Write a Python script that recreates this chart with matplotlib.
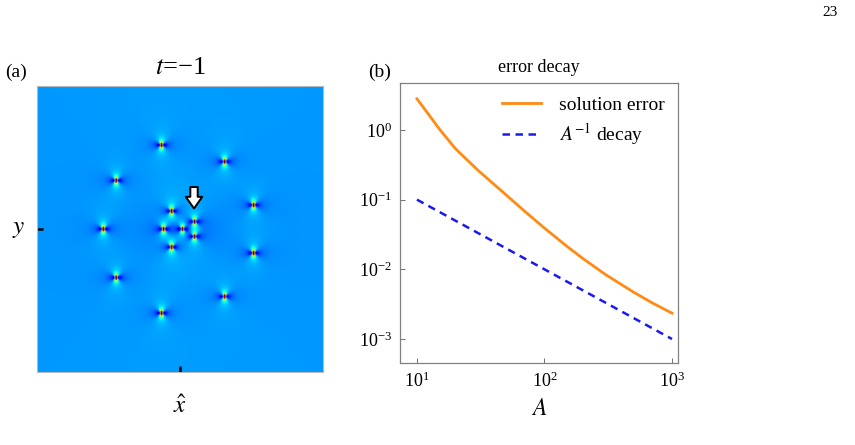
import numpy as np
import matplotlib
matplotlib.use("Agg")
import matplotlib.pyplot as plt

plt.rcParams['font.family'] = ['Liberation Serif', 'DejaVu Serif']
plt.rcParams['mathtext.fontset'] = 'stix'

# panel (a): lump positions at t=-1 (x-hat, y)
lump_x = [-6.6, 15.4, -22.4, 25.5, -3.1, 4.9, -26.9, -5.9, 0.7, 4.9, -3.1, 25.5, -22.4, 15.4, -6.6]
lump_y = [29.4, 23.6, 17.0, 8.4, 6.3, 2.6, 0.0, 0.0, 0.0, -2.6, -6.3, -8.4, -17.0, -23.6, -29.4]
arrow_tip = (4.9, 7.0)
arrow_tail = (4.9, 14.5)

# panel (b): error decay
A_err = [10, 12, 15, 20, 30, 50, 70, 100, 150, 200, 300, 500, 700, 1000]
sol_err = [2.8, 1.79, 1.03, 0.54, 0.265, 0.117, 0.068, 0.039, 0.0214, 0.0143, 0.00845, 0.0047, 0.0033, 0.00235]
A_dec = [10, 20, 50, 100, 200, 500, 1000]
decay = [0.1, 0.05, 0.02, 0.01, 0.005, 0.002, 0.001]

fig = plt.figure(figsize=(8.55, 4.45), dpi=100)

# ---- (a)
ax1 = fig.add_axes([37/855, 1-372/445, 286/855, 287/445])
L = 50
g = np.linspace(-L, L, 1000)
X, Y = np.meshgrid(g, g)
c = 0.25
u = np.zeros_like(X)
for x0, y0 in zip(lump_x, lump_y):
    dx2 = (X - x0)**2
    dy2 = (Y - y0)**2
    u += (dy2 - dx2 + c) / (dx2 + dy2 + c)**2
s = (0.275 - 0.04) * 8 * c   # colour-units per unit of u
cmap = matplotlib.colormaps['jet'].resampled(4096)
ax1.imshow(u, cmap=cmap, origin='lower', extent=[-L, L, -L, L],
           vmin=-0.275/s, vmax=0.725/s, interpolation='bilinear')
ax1.annotate('', xy=arrow_tip, xytext=arrow_tail,
             arrowprops=dict(arrowstyle='simple,head_length=0.6,head_width=0.85,tail_width=0.38',
                             fc='white', ec='black', lw=1.4, mutation_scale=14,
                             shrinkA=0, shrinkB=0))
ax1.set_xticks([0])
ax1.set_yticks([0])
ax1.set_xticklabels([])
ax1.set_yticklabels([])
ax1.tick_params(direction='in', length=4, width=1.8, color='black')
for sp in ax1.spines.values():
    sp.set_color('#b8b8b8')
    sp.set_linewidth(0.8)
ax1.set_xlabel(r'$\hat{x}$', fontsize=18, labelpad=14)
ax1.set_ylabel(r'$y$', fontsize=18, rotation=0, labelpad=10, va='center')
ax1.set_title(r'$t$=−1', fontsize=19, pad=8)
fig.text(5/855, 1-72/445, '(a)', fontsize=14, va='center')

# ---- (b)
ax2 = fig.add_axes([400/855, 1-363/445, 278/855, 280/445])
ax2.plot(A_err, sol_err, color='#ff8a14', lw=2.0, label='solution error')
ax2.plot(A_dec, decay, color='#1a1aee', lw=1.8, ls=(0, (3, 2.2)), label=r'$A^{-1}$ decay')
ax2.set_xscale('log')
ax2.set_yscale('log')
ax2.set_xlim(10**0.867, 10**3.047)
ax2.set_ylim(10**-3.344, 10**0.674)
ax2.minorticks_off()
ax2.set_xticks([10, 100, 1000])
ax2.set_yticks([1e-3, 1e-2, 1e-1, 1])
ax2.tick_params(direction='in', length=3.5, width=0.7, color='#707070', labelsize=13, pad=6)
for sp in ax2.spines.values():
    sp.set_color('#808080')
    sp.set_linewidth(0.9)
ax2.set_xlabel(r'$A$', fontsize=17, labelpad=6)
ax2.set_title('error decay', fontsize=13, pad=8)
ax2.legend(loc='upper right', frameon=False, fontsize=14, handlelength=2.0,
           handletextpad=0.9, labelspacing=0.35, borderaxespad=0.3)
fig.text(368/855, 1-72/445, '(b)', fontsize=14, va='center')

fig.text(830/855, 1-12/445, '23', fontsize=11, ha='center', va='center')

fig.savefig('out.png', dpi=100)
